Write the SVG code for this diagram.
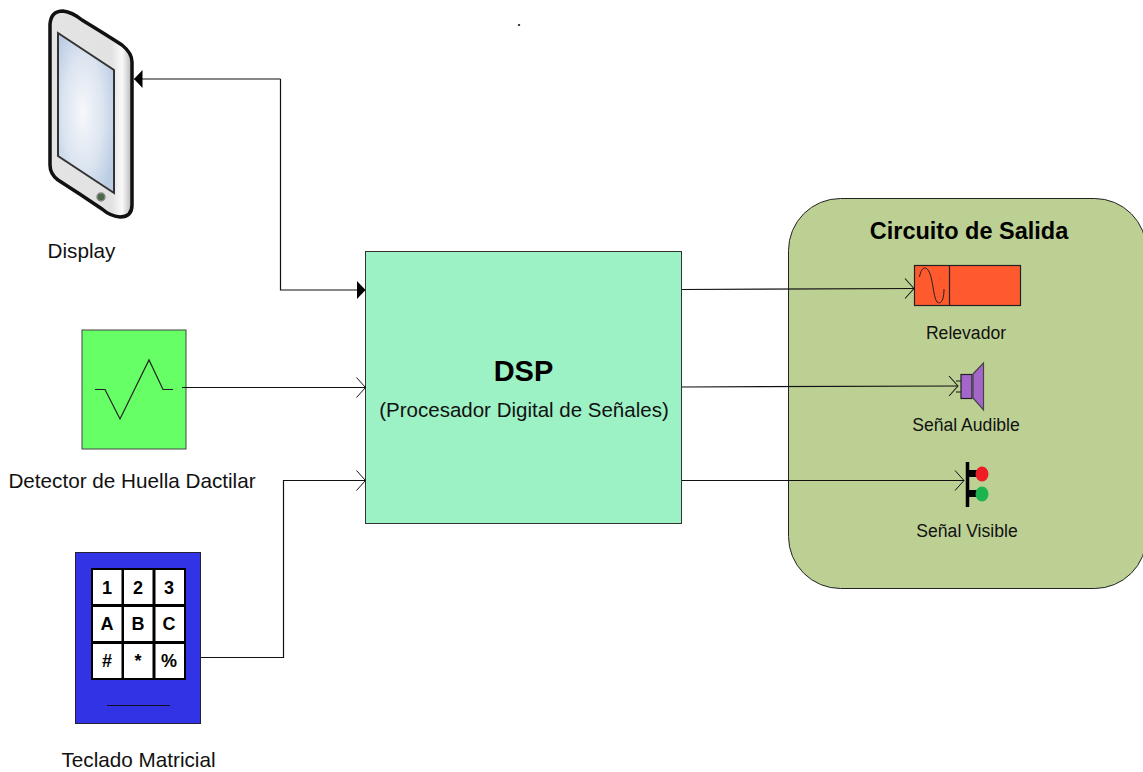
<svg xmlns="http://www.w3.org/2000/svg" width="1143" height="772" viewBox="0 0 1143 772">
<style>
text{font-family:"Liberation Sans",Arial,sans-serif;fill:#111;text-anchor:middle}
.l{font-size:20.700px}
.s{font-size:17.600px}
.k{font-size:18px;font-weight:bold;fill:#000}
.c{fill:none;stroke:#111;stroke-width:1.2}
.cell{fill:#fff;stroke:#000;stroke-width:2}
</style>
<defs>
<marker id="open" markerUnits="userSpaceOnUse" markerWidth="12" markerHeight="22" refX="10" refY="11" orient="auto"><path d="M1 1L10 11L1 21" fill="none" stroke="#111" stroke-width="1"/></marker>
<marker id="solid" markerUnits="userSpaceOnUse" markerWidth="10" markerHeight="20" refX="9" refY="10" orient="auto"><path d="M0.500 1L9 10L0.500 19Z" fill="#000"/></marker>
<radialGradient id="screen" cx=".45" cy=".5" r=".6"><stop offset="0" stop-color="#f6f8fb"/><stop offset=".6" stop-color="#dbe4f0"/><stop offset="1" stop-color="#bccde3"/></radialGradient>
<linearGradient id="body" x1="0" y1="0" x2="1" y2="0"><stop offset="0" stop-color="#e4e4e4"/><stop offset=".75" stop-color="#e2e2e2"/><stop offset=".88" stop-color="#fafafa"/><stop offset="1" stop-color="#b5b5b5"/></linearGradient>
</defs>
<rect width="1143" height="772" fill="#fff"/>
<g id="note"><text x="519" y="26" class="s">.</text></g>
<g id="display">
<path d="M50 24Q51 11 63 11Q72 12 82 20Q105 34 122 45Q132 53 132 62V205Q132 217 120 217Q110 216 102 209Q80 194 58 180Q50 174 50 165Z" fill="url(#body)" stroke="#111" stroke-width="3.500"/>
<path d="M58 33L114 70V193L58 156Z" fill="url(#screen)" stroke="#333" stroke-width="2"/>
<circle cx="101" cy="197" r="4" fill="#4a6b4a" stroke="#888" stroke-width="1.500"/>
<text x="81.500" y="258" class="l">Display</text>
</g>
<g id="detector">
<rect x="82" y="330" width="104" height="119" fill="#66ff66" stroke="#444" stroke-width="1"/>
<path d="M95 389.500H105L120 419L149 360L163 389.500H173" fill="none" stroke="#222" stroke-width="1.200"/>
<text x="132" y="488" class="l">Detector de Huella Dactilar</text>
</g>
<g id="teclado">
<rect x="75.500" y="552.500" width="125" height="171" fill="#3333e6" stroke="#223" stroke-width="1"/>
<rect x="92" y="569" width="30.500" height="36" class="cell"/><rect x="123" y="569" width="30.500" height="36" class="cell"/><rect x="154.500" y="569" width="30.500" height="36" class="cell"/>
<rect x="92" y="606" width="30.500" height="36" class="cell"/><rect x="123" y="606" width="30.500" height="36" class="cell"/><rect x="154.500" y="606" width="30.500" height="36" class="cell"/>
<rect x="92" y="643" width="30.500" height="36" class="cell"/><rect x="123" y="643" width="30.500" height="36" class="cell"/><rect x="154.500" y="643" width="30.500" height="36" class="cell"/>
<text x="107" y="594" class="k">1</text><text x="138" y="594" class="k">2</text><text x="169" y="594" class="k">3</text>
<text x="107" y="630" class="k">A</text><text x="138" y="630" class="k">B</text><text x="169" y="630" class="k">C</text>
<text x="107" y="667" class="k">#</text><text x="138" y="667" class="k">*</text><text x="169" y="667" class="k">%</text>
<path d="M107 705.500H170" stroke="#112" stroke-width="1.200"/>
<text x="138.500" y="767" class="l">Teclado Matricial</text>
</g>
<g id="dsp">
<rect x="365.500" y="251.500" width="316" height="272" fill="#9df2c5" stroke="#333" stroke-width="1"/>
<text x="523.500" y="381" style="font-size:29px;font-weight:bold;fill:#000">DSP</text>
<text x="524" y="417" style="font-size:20.500px">(Procesador Digital de Señales)</text>
</g>
<g id="salida">
<rect x="788.500" y="198.500" width="358" height="390" rx="52" fill="#bdd094" stroke="#222" stroke-width="1"/>
<text x="969" y="239" style="font-size:23.500px;font-weight:bold;fill:#000">Circuito de Salida</text>
</g>
<g id="relevador">
<rect x="914.500" y="265.500" width="106" height="40" fill="#ff5a2e" stroke="#222" stroke-width="1.200"/>
<path d="M949.500 265.500V305.500" stroke="#222" stroke-width="1.200"/>
<path d="M919.500 277C921 268 925 266 928 270C933 276 933 297 937 302C941 305 944 300 944 289" fill="none" stroke="#222" stroke-width="1"/>
<text x="966" y="339" class="s">Relevador</text>
</g>
<g id="audible">
<path d="M956 381H961M956 392H961" stroke="#111" stroke-width="1"/>
<rect x="961" y="374.500" width="11" height="24" fill="#a566cc" stroke="#222" stroke-width="1.200"/>
<path d="M973 374L983.500 363V410L973 398Z" fill="#a566cc" stroke="#444" stroke-width="1.200"/>
<text x="966" y="431" class="s">Señal Audible</text>
</g>
<g id="visible">
<path d="M967.500 462V507" stroke="#000" stroke-width="3.500"/>
<path d="M968 473.500H980M968 493.500H980" stroke="#000" stroke-width="7"/>
<ellipse cx="982" cy="474" rx="6.500" ry="7.500" fill="#ee1c25"/>
<ellipse cx="982" cy="494" rx="6.500" ry="7.500" fill="#1db34f"/>
<text x="967" y="537" class="s">Señal Visible</text>
</g>
<g id="connectors">
<path class="c" d="M280.500 79H134" marker-end="url(#solid)"/>
<path class="c" d="M365 290H280.500V79"/>
<path d="M357 281L365.500 290L357 299Z" fill="#000"/>
<path class="c" d="M182 387.500H365.500" marker-end="url(#open)"/>
<path class="c" d="M201 657.500H283.500V480.500H365.500" marker-end="url(#open)"/>
<path class="c" d="M682 289.500L914 288.500" marker-end="url(#open)"/>
<path class="c" d="M682 387L958 386" marker-end="url(#open)"/>
<path class="c" d="M682 480.500H964" marker-end="url(#open)"/>
</g>
</svg>
